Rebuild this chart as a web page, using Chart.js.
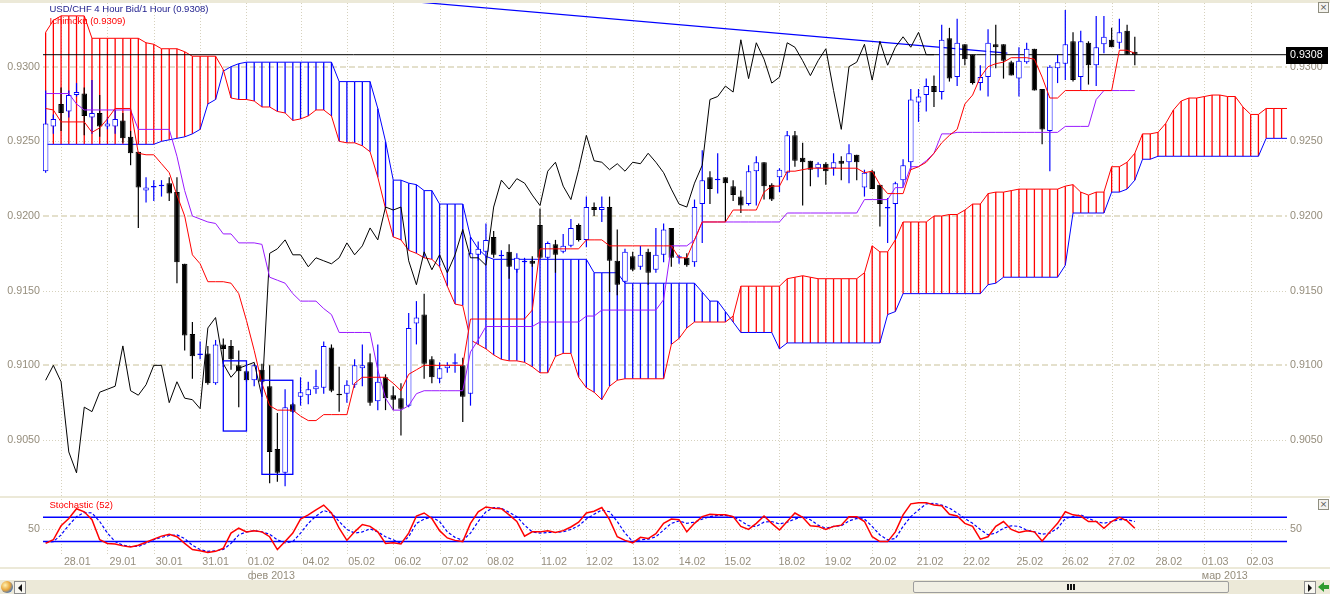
<!DOCTYPE html>
<html>
<head>
<meta charset="utf-8">
<script src="https://cdn.jsdelivr.net/npm/chart.js@4.4.1/dist/chart.umd.min.js"></script>
<style>
html, body { margin: 0; padding: 0; background: #fff; }
#wrap { position: relative; width: 1330px; height: 594px; overflow: hidden; background: #fff; }
#main { position: absolute; left: 0; top: 0; }
#stoch { position: absolute; left: 0; top: 496px; }
#topband { position: absolute; left: 0; top: 0; width: 1330px; height: 3px; background: #ece9d8; }
.cls { position: absolute; left: 1318px; width: 9px; height: 9px; border: 1px solid #8f8e80; background: #f4f3ee;
  font: 9px/9px "DejaVu Sans"; color: #555; text-align: center; }
#scroll { position: absolute; left: 0; top: 580px; width: 1330px; height: 14px; background: #ece9d8; }
.globe { position: absolute; left: 1px; top: 1px; width: 12px; height: 12px; border-radius: 50%;
  background: radial-gradient(circle at 35% 35%, #fff1b0, #e8a53a 45%, #3a70c0 78%); }
.btn { position: absolute; top: 1px; width: 10px; height: 11px; border: 1px solid #8c8c8c; background: #f7f6f0; }
.triL { position: absolute; left: 3px; top: 2px; width: 0; height: 0; border-top: 4px solid transparent;
  border-bottom: 4px solid transparent; border-right: 4px solid #111; }
.triR { position: absolute; left: 3px; top: 2px; width: 0; height: 0; border-top: 4px solid transparent;
  border-bottom: 4px solid transparent; border-left: 4px solid #111; }
.thumb { position: absolute; left: 913px; top: 1px; width: 314px; height: 10px; border: 1px solid #9d9d9d;
  border-radius: 2px; background: #f1efe4; }
.grip { position: absolute; left: 153px; top: 2px; width: 8px; height: 6px;
  background: repeating-linear-gradient(90deg, #111 0 2px, transparent 2px 3px); }
.garrowHead { position: absolute; left: 1318px; top: 2px; width: 0; height: 0; border-top: 5px solid transparent;
  border-bottom: 5px solid transparent; border-right: 6px solid #2f9a2f; }
.garrowTail { position: absolute; left: 1323px; top: 5px; width: 6px; height: 4px; background: #2f9a2f; }
</style>
</head>
<body>
<div id="wrap">
  <canvas id="main" width="1330" height="496"></canvas>
  <canvas id="stoch" width="1330" height="84"></canvas>
  <div id="topband"></div>
  <div class="cls" style="top:2px">×</div>
  <div class="cls" style="top:499px">×</div>
  <div id="scroll">
    <div class="globe"></div>
    <div class="btn" style="left:14px"><div class="triL"></div></div>
    <div class="thumb"><div class="grip"></div></div>
    <div class="btn" style="left:1304px"><div class="triR"></div></div>
    <div class="garrowHead"></div><div class="garrowTail"></div>
  </div>
</div>
<script>
// USD/CHF 4H candles, bar index 0..141
var opens = [0.9230,0.9260,0.9275,0.9270,0.9281,0.9282,0.9266,0.9269,0.9260,0.9260,
  0.9264,0.9253,0.9243,0.9217,0.9219,0.9220,0.9222,0.9216,0.9168,0.9121,
  0.9107,0.9108,0.9088,0.9114,0.9113,0.9100,0.9096,0.9090,0.9097,0.9086,
  0.9044,0.9028,0.9074,0.9079,0.9080,0.9084,0.9085,0.9112,0.9081,0.9081,
  0.9087,0.9098,0.9102,0.9076,0.9092,0.9080,0.9078,0.9073,0.9128,0.9134,
  0.9104,0.9091,0.9098,0.9101,0.9100,0.9081,0.9174,0.9176,0.9186,0.9173,
  0.9176,0.9164,0.9169,0.9170,0.9194,0.9172,0.9181,0.9176,0.9180,0.9194,
  0.9184,0.9206,0.9204,0.9206,0.9170,0.9156,0.9173,0.9166,0.9176,0.9164,
  0.9174,0.9192,0.9172,0.9172,0.9169,0.9208,0.9226,0.9224,0.9226,0.9220,
  0.9213,0.9208,0.9230,0.9236,0.9221,0.9226,0.9229,0.9254,0.9239,0.9237,
  0.9232,0.9235,0.9232,0.9237,0.9236,0.9241,0.9219,0.9230,0.9221,0.9205,
  0.9208,0.9224,0.9236,0.9276,0.9281,0.9287,0.9283,0.9319,0.9293,0.9315,
  0.9308,0.9289,0.9293,0.9315,0.9315,0.9303,0.9292,0.9303,0.9312,0.9285,
  0.9257,0.9299,0.9302,0.9317,0.9293,0.9316,0.9301,0.9315,0.9318,0.9316,
  0.9324,0.9310];
var highs = [0.9284,0.9268,0.9286,0.9284,0.9289,0.9286,0.9291,0.9281,0.9266,0.9271,
  0.9269,0.9257,0.9243,0.9226,0.9224,0.9224,0.9226,0.9226,0.9168,0.9129,
  0.9116,0.9113,0.9117,0.9118,0.9117,0.9110,0.9097,0.9101,0.9101,0.9100,
  0.9068,0.9084,0.9075,0.9092,0.9089,0.9097,0.9116,0.9114,0.9099,0.9090,
  0.9104,0.9114,0.9108,0.9114,0.9094,0.9086,0.9088,0.9135,0.9143,0.9148,
  0.9106,0.9102,0.9102,0.9108,0.9105,0.9178,0.9183,0.9195,0.9190,0.9177,
  0.9181,0.9175,0.9172,0.9173,0.9205,0.9183,0.9184,0.9188,0.9198,0.9195,
  0.9213,0.9209,0.9213,0.9213,0.9191,0.9178,0.9176,0.9180,0.9178,0.9192,
  0.9195,0.9192,0.9174,0.9175,0.9211,0.9244,0.9230,0.9242,0.9226,0.9224,
  0.9217,0.9234,0.9240,0.9236,0.9222,0.9232,0.9257,0.9257,0.9249,0.9237,
  0.9236,0.9236,0.9242,0.9240,0.9248,0.9241,0.9231,0.9231,0.9221,0.9212,
  0.9223,0.9238,0.9285,0.9285,0.9292,0.9294,0.9328,0.9326,0.9332,0.9315,
  0.9308,0.9301,0.9325,0.9328,0.9315,0.9304,0.9313,0.9316,0.9312,0.9285,
  0.9301,0.9308,0.9338,0.9323,0.9324,0.9317,0.9334,0.9334,0.9326,0.9332,
  0.9328,0.9320];
var lows = [0.9229,0.9255,0.9257,0.9266,0.9280,0.9254,0.9255,0.9253,0.9258,0.9255,
  0.9249,0.9234,0.9192,0.9209,0.9210,0.9213,0.9210,0.9155,0.9110,0.9091,
  0.9104,0.9087,0.9087,0.9099,0.9097,0.9072,0.9089,0.9086,0.9087,0.9021,
  0.9022,0.9019,0.9068,0.9073,0.9074,0.9081,0.9081,0.9082,0.9069,0.9075,
  0.9085,0.9086,0.9073,0.9070,0.9070,0.9070,0.9053,0.9072,0.9114,0.9091,
  0.9088,0.9088,0.9095,0.9095,0.9062,0.9073,0.9170,0.9172,0.9172,0.9171,
  0.9158,0.9162,0.9168,0.9166,0.9171,0.9171,0.9162,0.9175,0.9179,0.9183,
  0.9179,0.9200,0.9196,0.9149,0.9147,0.9155,0.9163,0.9164,0.9154,0.9162,
  0.9169,0.9166,0.9168,0.9166,0.9166,0.9182,0.9208,0.9215,0.9196,0.9210,
  0.9202,0.9207,0.9207,0.9211,0.9210,0.9216,0.9224,0.9233,0.9207,0.9220,
  0.9226,0.9221,0.9227,0.9224,0.9222,0.9224,0.9213,0.9218,0.9193,0.9182,
  0.9184,0.9219,0.9231,0.9263,0.9270,0.9273,0.9278,0.9290,0.9287,0.9301,
  0.9288,0.9284,0.9280,0.9299,0.9292,0.9294,0.9280,0.9302,0.9284,0.9248,
  0.9230,0.9289,0.9291,0.9290,0.9284,0.9288,0.9287,0.9309,0.9313,0.9312,
  0.9308,0.9301];
var closes = [0.9262,0.9265,0.9269,0.9281,0.9283,0.9267,0.9269,0.9260,0.9262,0.9265,
  0.9252,0.9242,0.9219,0.9219,0.9220,0.9221,0.9215,0.9169,0.9120,0.9106,
  0.9108,0.9088,0.9114,0.9111,0.9104,0.9096,0.9090,0.9100,0.9089,0.9042,
  0.9028,0.9072,0.9069,0.9082,0.9084,0.9086,0.9113,0.9083,0.9080,0.9087,
  0.9100,0.9100,0.9075,0.9089,0.9078,0.9077,0.9071,0.9125,0.9132,0.9101,
  0.9092,0.9098,0.9100,0.9102,0.9079,0.9175,0.9178,0.9184,0.9174,0.9174,
  0.9166,0.9172,0.9170,0.9168,0.9172,0.9182,0.9174,0.9180,0.9192,0.9184,
  0.9206,0.9204,0.9206,0.9170,0.9154,0.9176,0.9164,0.9174,0.9162,0.9174,
  0.9191,0.9172,0.9172,0.9167,0.9206,0.9224,0.9218,0.9225,0.9222,0.9214,
  0.9207,0.9230,0.9236,0.9220,0.9211,0.9231,0.9254,0.9237,0.9236,0.9231,
  0.9235,0.9230,0.9236,0.9235,0.9242,0.9236,0.9229,0.9218,0.9208,0.9206,
  0.9222,0.9234,0.9278,0.9280,0.9287,0.9283,0.9318,0.9292,0.9316,0.9305,
  0.9289,0.9293,0.9316,0.9313,0.9304,0.9294,0.9304,0.9312,0.9284,0.9258,
  0.9300,0.9303,0.9315,0.9291,0.9317,0.9301,0.9313,0.9320,0.9313,0.9323,
  0.9308,0.9308];

// Ichimoku lines
var tenkan = [0.9272,0.9271,0.9263,0.9263,0.9263,0.9263,0.9256,0.9259,0.9265,0.9272,
  0.9272,0.9272,0.9242,0.9241,0.9241,0.9235,0.9229,0.9214,0.9200,0.9174,
  0.9168,0.9156,0.9156,0.9156,0.9155,0.9148,0.9130,0.9110,0.9088,0.9073,
  0.9070,0.9070,0.9070,0.9066,0.9063,0.9063,0.9067,0.9067,0.9067,0.9067,
  0.9088,0.9092,0.9092,0.9092,0.9092,0.9088,0.9083,0.9094,0.9097,0.9100,
  0.9100,0.9100,0.9100,0.9100,0.9100,0.9131,0.9131,0.9131,0.9131,0.9131,
  0.9131,0.9131,0.9131,0.9137,0.9178,0.9178,0.9178,0.9178,0.9178,0.9178,
  0.9184,0.9184,0.9184,0.9180,0.9180,0.9180,0.9180,0.9180,0.9180,0.9180,
  0.9180,0.9180,0.9172,0.9172,0.9184,0.9196,0.9196,0.9196,0.9196,0.9204,
  0.9204,0.9204,0.9204,0.9216,0.9220,0.9220,0.9230,0.9230,0.9231,0.9232,
  0.9232,0.9232,0.9232,0.9232,0.9232,0.9232,0.9229,0.9230,0.9221,0.9215,
  0.9215,0.9215,0.9231,0.9233,0.9236,0.9242,0.9249,0.9254,0.9258,0.9275,
  0.9281,0.9293,0.9300,0.9302,0.9303,0.9306,0.9306,0.9306,0.9305,0.9293,
  0.9279,0.9279,0.9284,0.9284,0.9284,0.9284,0.9284,0.9284,0.9284,0.9311,
  0.9311,0.9309];
var kijun = [0.9282,0.9282,0.9282,0.9282,0.9275,0.9271,0.9271,0.9271,0.9271,0.9271,
  0.9271,0.9271,0.9258,0.9258,0.9258,0.9258,0.9258,0.9240,0.9217,0.9200,
  0.9198,0.9196,0.9195,0.9188,0.9188,0.9182,0.9182,0.9182,0.9181,0.9159,
  0.9157,0.9155,0.9148,0.9143,0.9143,0.9143,0.9138,0.9134,0.9122,0.9122,
  0.9122,0.9122,0.9122,0.9097,0.9078,0.9070,0.9070,0.9073,0.9081,0.9083,
  0.9083,0.9083,0.9083,0.9083,0.9083,0.9109,0.9117,0.9126,0.9126,0.9126,
  0.9126,0.9126,0.9126,0.9126,0.9129,0.9129,0.9129,0.9129,0.9129,0.9129,
  0.9133,0.9133,0.9137,0.9137,0.9137,0.9137,0.9137,0.9137,0.9137,0.9137,
  0.9144,0.9180,0.9180,0.9180,0.9184,0.9196,0.9196,0.9196,0.9196,0.9196,
  0.9196,0.9196,0.9196,0.9196,0.9196,0.9196,0.9202,0.9202,0.9202,0.9202,
  0.9202,0.9202,0.9202,0.9202,0.9202,0.9202,0.9211,0.9211,0.9211,0.9211,
  0.9219,0.9219,0.9233,0.9233,0.9237,0.9242,0.9255,0.9255,0.9256,0.9256,
  0.9256,0.9256,0.9256,0.9256,0.9256,0.9256,0.9256,0.9256,0.9256,0.9256,
  0.9256,0.9256,0.9260,0.9260,0.9260,0.9260,0.9278,0.9284,0.9284,0.9284,
  0.9284,0.9284];
// leading spans, bar index 0..161
var senkouA = [0.9323,0.9331,0.9334,0.9334,0.9334,0.9334,0.9319,0.9319,0.9319,0.9319,
  0.9319,0.9319,0.9319,0.9316,0.9315,0.9312,0.9312,0.9312,0.9310,0.9307,
  0.9307,0.9307,0.9307,0.9298,0.9279,0.9278,0.9278,0.9277,0.9273,0.9273,
  0.9270,0.9269,0.9264,0.9265,0.9267,0.9271,0.9271,0.9267,0.9250,0.9249,
  0.9249,0.9247,0.9243,0.9226,0.9205,0.9186,0.9184,0.9177,0.9175,0.9172,
  0.9171,0.9166,0.9153,0.9141,0.9140,0.9117,0.9114,0.9111,0.9107,0.9104,
  0.9103,0.9103,0.9102,0.9099,0.9095,0.9095,0.9106,0.9108,0.9108,0.9092,
  0.9085,0.9082,0.9077,0.9086,0.9090,0.9091,0.9091,0.9091,0.9091,0.9091,
  0.9091,0.9114,0.9118,0.9125,0.9129,0.9129,0.9129,0.9129,0.9129,0.9133,
  0.9153,0.9153,0.9153,0.9153,0.9153,0.9153,0.9158,0.9159,0.9160,0.9159,
  0.9158,0.9158,0.9158,0.9158,0.9158,0.9158,0.9162,0.9180,0.9176,0.9176,
  0.9184,0.9196,0.9196,0.9196,0.9196,0.9200,0.9200,0.9201,0.9201,0.9204,
  0.9208,0.9208,0.9215,0.9216,0.9216,0.9217,0.9218,0.9218,0.9218,0.9218,
  0.9218,0.9218,0.9220,0.9221,0.9216,0.9214,0.9216,0.9216,0.9233,0.9233,
  0.9236,0.9242,0.9255,0.9255,0.9256,0.9262,0.9271,0.9277,0.9279,0.9279,
  0.9280,0.9281,0.9281,0.9280,0.9280,0.9273,0.9268,0.9268,0.9272,0.9272,
  0.9272,0.9272];
var senkouB = [0.9248,0.9248,0.9248,0.9248,0.9248,0.9248,0.9248,0.9248,0.9248,0.9248,
  0.9248,0.9248,0.9248,0.9248,0.9248,0.9250,0.9251,0.9252,0.9253,0.9255,
  0.9258,0.9275,0.9278,0.9297,0.9300,0.9302,0.9303,0.9303,0.9303,0.9303,
  0.9303,0.9303,0.9303,0.9303,0.9303,0.9303,0.9303,0.9303,0.9290,0.9290,
  0.9290,0.9290,0.9290,0.9272,0.9250,0.9224,0.9224,0.9222,0.9221,0.9217,
  0.9217,0.9208,0.9208,0.9208,0.9208,0.9186,0.9178,0.9173,0.9171,0.9171,
  0.9171,0.9171,0.9171,0.9171,0.9171,0.9171,0.9171,0.9171,0.9171,0.9171,
  0.9171,0.9162,0.9162,0.9162,0.9162,0.9155,0.9155,0.9155,0.9155,0.9155,
  0.9155,0.9155,0.9155,0.9155,0.9155,0.9149,0.9143,0.9143,0.9136,0.9129,
  0.9122,0.9122,0.9122,0.9122,0.9122,0.9111,0.9115,0.9115,0.9115,0.9115,
  0.9115,0.9115,0.9115,0.9115,0.9115,0.9115,0.9115,0.9115,0.9115,0.9134,
  0.9136,0.9148,0.9148,0.9148,0.9148,0.9148,0.9148,0.9148,0.9148,0.9148,
  0.9148,0.9148,0.9154,0.9155,0.9159,0.9159,0.9159,0.9159,0.9159,0.9159,
  0.9159,0.9159,0.9167,0.9202,0.9202,0.9202,0.9202,0.9202,0.9216,0.9216,
  0.9218,0.9224,0.9238,0.9238,0.9240,0.9240,0.9240,0.9240,0.9240,0.9240,
  0.9240,0.9240,0.9240,0.9240,0.9240,0.9240,0.9240,0.9240,0.9252,0.9252,
  0.9252,0.9252];
var chikouShift = 26;

// drawn objects
var lastPrice = 0.9308;
var trendLine = [{ x: 48.7, y: 0.9343 }, { x: 124.5, y: 0.9309 }];
var boxes = [
  { from: 23, to: 26, top: 0.9103, bottom: 0.9056 },
  { from: 28, to: 32, top: 0.9090, bottom: 0.9027 }
];

// stochastic (52): %K and %D
var stochK = [27,33,56,68,84,79,66,33,27,26,
  23,21,24,29,34,39,42,38,27,17,
  15,12,14,19,44,52,46,48,46,38,
  17,30,44,67,74,82,90,77,52,32,
  46,58,55,46,27,28,26,44,72,77,
  68,48,36,32,30,60,79,87,85,84,
  74,63,39,46,46,48,45,48,54,62,
  77,80,86,66,38,32,28,37,35,43,
  60,67,66,46,60,71,75,74,74,71,
  55,50,60,72,60,49,63,77,70,56,
  55,50,55,57,71,71,63,38,30,30,
  46,74,92,94,94,90,89,75,72,60,
  55,34,38,55,63,50,45,48,46,31,
  46,60,79,74,72,63,63,52,63,70,
  64,52];
var stochD = [29,30,41,57,71,78,77,63,44,30,
  24,22,22,27,33,37,40,41,35,24,
  17,14,15,17,27,41,46,48,46,42,
  33,28,30,44,60,72,81,77,63,50,
  44,46,51,46,38,33,27,38,60,67,
  70,63,46,37,32,44,63,79,86,85,
  78,71,57,46,44,45,45,46,50,56,
  67,75,82,79,63,44,30,33,34,38,
  49,60,64,60,62,67,71,73,73,71,
  64,56,55,62,63,59,62,67,71,66,
  57,52,55,56,64,68,67,55,41,33,
  35,55,71,82,92,93,90,85,77,68,
  60,50,41,44,52,56,55,49,46,42,
  44,52,68,71,74,68,63,60,63,66,
  66,63];
var stochLevels = [70, 30];

// axes
var priceTicks = [0.905, 0.910, 0.915, 0.920, 0.925, 0.930];
var stochTicks = [50];
var dayLabels = ['28.01','29.01','30.01','31.01','01.02','04.02','05.02','06.02','07.02','08.02',
  '11.02','12.02','13.02','14.02','15.02','18.02','19.02','20.02','21.02','22.02',
  '25.02','26.02','27.02','28.02','01.03','02.03'];
var dayTickPos = [4.1,10.0,16.0,22.0,27.9,35.0,40.9,46.9,53.0,58.9,
  65.8,71.7,77.7,83.7,89.6,96.6,102.6,108.4,114.5,120.5,
  127.4,133.3,139.3,145.4,151.4,157.2];
var dayStartBar = [2,8,14,20,26,33,39,45,51,57,64,70,76,82,88,95,101,107,113,119,126,132,138,144,150,156];
var monthLabels = ['фев 2013', 'мар 2013'];
var monthDayIndex = [4, 24];

var xMin = -0.34, xMax = 160.7;
var yMin = 0.90125, yMax = 0.934263;

var RED = '#ff0000', BLUE = '#0000ff', PURPLE = '#9a1aff', BLACK = '#000000';
var axisColor = '#958d7c';
var axisFont = { family: 'Liberation Sans', size: 10.7 };
Chart.defaults.font.family = 'Liberation Sans';

function pts(arr, from) {
  return arr.map(function (v, i) { return { x: i + from, y: v }; });
}
function across(v) {
  return [{ x: xMin - 1, y: v }, { x: xMax + 1, y: v }];
}
function line(data, color, width, order, dash) {
  return { type: 'line', data: data, borderColor: color, borderWidth: width, borderDash: dash || [],
    pointRadius: 0, tension: 0, fill: false, order: order };
}
function sideAxis(pos, min, max, ticks, fmt) {
  return {
    type: 'linear', position: pos, min: min, max: max, beginAtZero: false,
    grid: { display: false, drawTicks: false }, border: { display: false },
    afterFit: function (s) { s.width = 43; s.paddingTop = 0; s.paddingBottom = 0; },
    afterBuildTicks: function (s) { s.ticks = ticks.map(function (v) { return { value: v }; }); },
    ticks: { padding: 3, color: axisColor, font: axisFont, callback: fmt }
  };
}

// cloud hatches and candles
var up = closes.map(function (c, i) { return c >= opens[i]; });
var hatch = senkouA.map(function (a, i) {
  return { x: i, y: [Math.min(a, senkouB[i]), Math.max(a, senkouB[i])] };
});
var hatchColor = senkouA.map(function (a, i) { return a >= senkouB[i] ? RED : BLUE; });
var wicks = lows.map(function (l, i) { return { x: i, y: [l, highs[i]] }; });
var bodies = opens.map(function (o, i) {
  return { x: i, y: [Math.min(o, closes[i]), Math.max(o, closes[i])] };
});

function dotted(ctx, x0, y0, x1, y1, color) {
  ctx.strokeStyle = color; ctx.lineWidth = 1; ctx.setLineDash([1, 2]);
  ctx.beginPath(); ctx.moveTo(x0, y0); ctx.lineTo(x1, y1); ctx.stroke();
}

var mainDeco = {
  id: 'mainDeco',
  beforeDatasetsDraw: function (chart) {
    var ctx = chart.ctx, a = chart.chartArea, x = chart.scales.x, y = chart.scales.y;
    ctx.save();
    dayStartBar.forEach(function (b) {
      var px = Math.round(x.getPixelForValue(b)) + 0.5;
      dotted(ctx, px, a.top, px, a.bottom, '#d6d1bd');
    });
    priceTicks.forEach(function (v) {
      var major = Math.abs(v * 100 - Math.round(v * 100)) < 1e-6;
      if (major) {
        var py = Math.round(y.getPixelForValue(v));
        ctx.strokeStyle = '#e4e0cc'; ctx.lineWidth = 2; ctx.setLineDash([6, 3]);
        ctx.beginPath(); ctx.moveTo(a.left, py); ctx.lineTo(a.right, py); ctx.stroke();
      } else {
        var pd = Math.round(y.getPixelForValue(v)) + 0.5;
        dotted(ctx, a.left, pd, a.right, pd, '#d6d1bd');
      }
    });
    ctx.setLineDash([]);
    ctx.font = '9.5px "Liberation Sans"';
    ctx.textAlign = 'left'; ctx.textBaseline = 'alphabetic';
    ctx.fillStyle = '#1c1c8c';
    ctx.fillText('USD/CHF 4 Hour Bid/1 Hour (' + lastPrice.toFixed(4) + ')', 49.5, 11.5);
    ctx.fillStyle = RED;
    ctx.fillText('Ichimoku (' + tenkan[tenkan.length - 1].toFixed(4) + ')', 49.5, 23.5);
    ctx.restore();
  },
  afterDatasetsDraw: function (chart) {
    var ctx = chart.ctx, a = chart.chartArea, x = chart.scales.x, y = chart.scales.y;
    ctx.save();
    ctx.beginPath(); ctx.rect(a.left, a.top, a.right - a.left, a.bottom - a.top); ctx.clip();
    ctx.strokeStyle = BLUE; ctx.lineWidth = 1.3;
    boxes.forEach(function (b) {
      var x0 = x.getPixelForValue(b.from), x1 = x.getPixelForValue(b.to);
      var y0 = y.getPixelForValue(b.top), y1 = y.getPixelForValue(b.bottom);
      ctx.strokeRect(x0, y0, x1 - x0, y1 - y0);
    });
    ctx.restore();
  },
  afterDraw: function (chart) {
    var ctx = chart.ctx, a = chart.chartArea, y = chart.scales.y;
    var py = y.getPixelForValue(lastPrice);
    ctx.save();
    ctx.fillStyle = BLACK;
    ctx.fillRect(a.right - 1, Math.round(py) - 8, 42, 17);
    ctx.fillStyle = '#ffffff';
    ctx.font = '10.7px "Liberation Sans"';
    ctx.textAlign = 'left'; ctx.textBaseline = 'middle';
    ctx.fillText(lastPrice.toFixed(4), a.right + 3, py + 0.5);
    ctx.restore();
  }
};

new Chart(document.getElementById('main'), {
  type: 'bar',
  data: {
    datasets: [
      { type: 'bar', data: hatch, backgroundColor: hatchColor, borderWidth: 0, maxBarThickness: 1.3,
        grouped: false, inflateAmount: 0, order: 10 },
      line(pts(senkouA, 0), RED, 1, 9),
      line(pts(senkouB, 0), BLUE, 1, 9),
      line(across(lastPrice), BLACK, 1, 8),
      line(trendLine, BLUE, 1.3, 8),
      { type: 'bar', data: wicks, backgroundColor: up.map(function (u) { return u ? BLUE : BLACK; }),
        borderWidth: 0, maxBarThickness: 1.2, grouped: false, inflateAmount: 0, order: 6 },
      { type: 'bar', data: bodies, backgroundColor: up.map(function (u) { return u ? '#ffffff' : BLACK; }),
        borderColor: up.map(function (u) { return u ? BLUE : BLACK; }), borderWidth: 1, borderSkipped: false,
        minBarLength: 1.5, maxBarThickness: 6, grouped: false, inflateAmount: 0, order: 5 },
      line(pts(closes.slice(chikouShift), 0), BLACK, 1, 4),
      line(pts(kijun, 0), PURPLE, 1, 3),
      line(pts(tenkan, 0), RED, 1, 2)
    ]
  },
  options: {
    responsive: false, animation: false, events: [],
    layout: { padding: { top: 3, left: 0, right: 0, bottom: 0 } },
    plugins: { legend: { display: false }, tooltip: { enabled: false } },
    scales: {
      x: { type: 'linear', min: xMin, max: xMax, offset: false, display: false },
      y: sideAxis('right', yMin, yMax, priceTicks, function (v) { return v.toFixed(4); }),
      yl: sideAxis('left', yMin, yMax, priceTicks, function (v) { return v.toFixed(4); })
    }
  },
  plugins: [mainDeco]
});

var stochDeco = {
  id: 'stochDeco',
  beforeDraw: function (chart) {
    var ctx = chart.ctx;
    ctx.save();
    ctx.fillStyle = '#ece9d8';
    ctx.fillRect(0, 0, chart.width, 2);
    ctx.fillRect(0, 71, chart.width, 2);
    ctx.restore();
  },
  beforeDatasetsDraw: function (chart) {
    var ctx = chart.ctx, a = chart.chartArea, x = chart.scales.x, y = chart.scales.y;
    ctx.save();
    dayStartBar.forEach(function (b) {
      var px = Math.round(x.getPixelForValue(b)) + 0.5;
      dotted(ctx, px, a.top, px, a.bottom, '#d6d1bd');
    });
    stochTicks.forEach(function (v) {
      var py = Math.round(y.getPixelForValue(v)) + 0.5;
      dotted(ctx, a.left, py, a.right, py, '#d6d1bd');
    });
    ctx.setLineDash([]);
    ctx.font = '9.5px "Liberation Sans"';
    ctx.textAlign = 'left'; ctx.textBaseline = 'alphabetic';
    ctx.fillStyle = RED;
    ctx.fillText('Stochastic (52)', 49.5, 11.5);
    ctx.restore();
  },
  afterDraw: function (chart) {
    var ctx = chart.ctx, x = chart.scales.x;
    ctx.save();
    ctx.font = '10.7px "Liberation Sans"';
    ctx.fillStyle = axisColor;
    ctx.textAlign = 'left'; ctx.textBaseline = 'alphabetic';
    monthLabels.forEach(function (m, k) {
      var d = monthDayIndex[k];
      var left = x.getPixelForValue(dayTickPos[d]) - ctx.measureText(dayLabels[d]).width / 2;
      ctx.fillText(m, left, 82.5);
    });
    ctx.restore();
  }
};

new Chart(document.getElementById('stoch'), {
  type: 'line',
  data: {
    datasets: [
      line(across(stochLevels[0]), BLUE, 1.5, 5),
      line(across(stochLevels[1]), BLUE, 1.5, 5),
      line(pts(stochD, 0), BLUE, 1.2, 2, [3, 2]),
      line(pts(stochK, 0), RED, 1.5, 1)
    ]
  },
  options: {
    responsive: false, animation: false, events: [],
    layout: { padding: { top: 3, left: 0, right: 0, bottom: 0 } },
    plugins: { legend: { display: false }, tooltip: { enabled: false } },
    scales: {
      x: {
        type: 'linear', position: 'bottom', min: xMin, max: xMax, offset: false,
        grid: { display: false, drawTicks: false }, border: { display: false },
        afterFit: function (s) { s.height = 25; s.paddingLeft = 0; s.paddingRight = 0; },
        afterBuildTicks: function (s) { s.ticks = dayTickPos.map(function (v) { return { value: v }; }); },
        ticks: { autoSkip: false, maxRotation: 0, minRotation: 0, padding: 1, color: axisColor, font: axisFont,
          callback: function (v, i) { return dayLabels[i]; } }
      },
      y: sideAxis('right', 8, 100, stochTicks, function (v) { return String(v); }),
      yl: sideAxis('left', 8, 100, stochTicks, function (v) { return String(v); })
    }
  },
  plugins: [stochDeco]
});
</script>
</body>
</html>
